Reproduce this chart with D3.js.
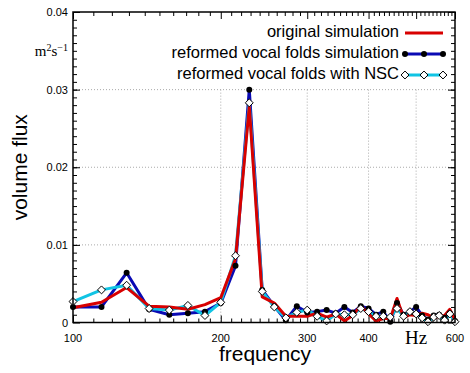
<!DOCTYPE html>
<html>
<head>
<meta charset="utf-8">
<script src="https://cdn.jsdelivr.net/npm/d3@7"></script>
<style>
  body { margin: 0; background: #fff; }
  svg { display: block; }
  text { font-family: "Liberation Sans", Arial, sans-serif; }
</style>
</head>
<body>
<div id="chart"></div>
<script>
// frecuencias (Hz) de cada punto
const freqs = [100, 114.3, 128.6, 142.9, 157.1, 171.4, 185.7, 200, 214.3, 228.6, 242.9, 257.1,
  271.4, 285.7, 300, 314.3, 328.6, 342.9, 357.1, 371.4, 385.7, 400, 414.3, 428.6,
  442.9, 457.1, 471.4, 485.7, 500, 514.3, 528.6, 542.9, 557.1, 571.4, 585.7, 600];

// original simulation
const original = [0.0019, 0.0026, 0.0045, 0.0021, 0.0020, 0.0017, 0.0023, 0.0032, 0.0082, 0.0278, 0.0033, 0.0025,
  0.0008, 0.0008, 0.0008, 0.0012, 0.0007, 0.0011, 0.0002, 0.0009, 0.0022, 0.0011, 0.0002, 0.0005,
  0.0005, 0.0031, 0.0006, 0.0010, 0.0009, 0.0012, 0.0010, 0.0006, 0.0008, 0.0009, 0.0017, 0.0003];

// reformed vocal folds simulation
const reformed = [0.0020, 0.0020, 0.0064, 0.0017, 0.0010, 0.0012, 0.0014, 0.0025, 0.0073, 0.0300, 0.0042, 0.0021,
  0.0003, 0.0021, 0.0013, 0.0014, 0.0016, 0.0012, 0.0020, 0.0013, 0.0021, 0.0018, 0.0010, 0.0014,
  0.0001, 0.0025, 0.0010, 0.0014, 0.0020, 0.0009, 0.0004, 0.0009, 0.0010, 0.0006, 0.0012, 0.0002];

// reformed vocal folds with NSC
const withNSC = [0.0027, 0.0042, 0.0048, 0.0018, 0.0016, 0.0022, 0.0009, 0.0026, 0.0086, 0.0283, 0.0040, 0.0020,
  0.0006, 0.0013, 0.0016, 0.0008, 0.0002, 0.0011, 0.0010, 0.0010, 0.0018, 0.0014, 0.0008, 0.0008,
  0.0007, 0.0018, 0.0008, 0.0014, 0.0011, 0.0006, 0.0001, 0.0007, 0.0009, 0.0003, 0.0011, 0.0001];

const xTickLabels = ['100', '200', '300', '400', 'Hz', '600'];
const xTickValues = [100, 200, 300, 400, 500, 600];
const yTickValues = [0, 0.01, 0.02, 0.03, 0.04];
const legendLabels = ['original simulation', 'reformed vocal folds simulation', 'reformed vocal folds with NSC'];

const COLOR_RED = '#d80000', COLOR_BLUE = '#0a0ab4', COLOR_CYAN = '#10c4e4';

let margin = {top: 12, right: 15, bottom: 50.5, left: 73},
    W = 470, H = 373,
    width = W - margin.left - margin.right,
    height = H - margin.top - margin.bottom;

let svg = d3.select('#chart').append('svg')
    .attr('width', W).attr('height', H)
  .append('g')
    .attr('transform', 'translate(' + margin.left + ',' + margin.top + ')');

let x = d3.scaleLog().domain([100, 600]).range([0, width]);
let y = d3.scaleLinear().domain([0, 0.04]).range([height, 0]);

// rejilla
svg.append('g').selectAll('line').data([0.01, 0.02, 0.03]).enter().append('line')
    .attr('x1', 0).attr('x2', width)
    .attr('y1', d => y(d)).attr('y2', d => y(d))
    .attr('stroke', '#aaa').attr('stroke-dasharray', '1,2');
svg.append('g').selectAll('line').data([200, 300, 400, 500]).enter().append('line')
    .attr('x1', d => x(d)).attr('x2', d => x(d))
    .attr('y1', y(0.03)).attr('y2', height)
    .attr('stroke', '#aaa').attr('stroke-dasharray', '1,2');

// ticks interiores
const minorX = d3.range(110, 600, 10).filter(v => v % 100 !== 0);
const minorY = d3.range(1, 40).map(i => i / 1000);

function tickAxis(axisFn, scale, vals, size) {
  return axisFn(scale).tickValues(vals).tickSize(size).tickFormat('');
}
[[d3.axisTop, 'translate(0,' + height + ')'], [d3.axisBottom, 'translate(0,0)']].forEach(([fn, tr]) => {
  svg.append('g').attr('class', 'tk').attr('transform', tr).call(tickAxis(fn, x, minorX, 4));
  svg.append('g').attr('class', 'tk').attr('transform', tr).call(tickAxis(fn, x, xTickValues, 7));
});
[[d3.axisRight, 'translate(0,0)'], [d3.axisLeft, 'translate(' + width + ',0)']].forEach(([fn, tr]) => {
  svg.append('g').attr('class', 'tk').attr('transform', tr).call(tickAxis(fn, y, minorY, 4));
  svg.append('g').attr('class', 'tk').attr('transform', tr).call(tickAxis(fn, y, yTickValues, 7));
});
svg.selectAll('.tk .domain').remove();
svg.selectAll('.tk line').attr('stroke', '#000');

// etiquetas
svg.append('g').selectAll('text').data(xTickValues).enter().append('text')
    .attr('x', d => x(d))
    .attr('y', (d, i) => xTickLabels[i] == 'Hz' ? height + 21 : height + 19)
    .attr('text-anchor', 'middle')
    .style('font-family', (d, i) => xTickLabels[i] == 'Hz' ? '"Liberation Serif", serif' : null)
    .style('font-size', (d, i) => xTickLabels[i] == 'Hz' ? '19px' : '11px')
    .text((d, i) => xTickLabels[i]);

svg.append('g').selectAll('text').data(yTickValues).enter().append('text')
    .attr('x', -5).attr('y', d => y(d) + 4)
    .attr('text-anchor', 'end').style('font-size', '11px')
    .text(d => d === 0 ? '0' : d3.format('.2f')(d));

let unit = svg.append('text')
    .attr('x', -5).attr('y', y(0.035) + 5)
    .attr('text-anchor', 'end')
    .style('font-family', '"Liberation Serif", serif').style('font-size', '15px');
unit.append('tspan').text('m');
unit.append('tspan').attr('dy', -5).style('font-size', '10px').text('2');
unit.append('tspan').attr('dy', 5).text('s');
unit.append('tspan').attr('dy', -5).style('font-size', '10px').text('\u22121');

svg.append('text')
    .attr('x', width / 2 + 1).attr('y', height + 38.5)
    .attr('text-anchor', 'middle').style('font-size', '21px')
    .text('frequency');
svg.append('text')
    .attr('transform', 'translate(' + (-46) + ',' + (height / 2) + ') rotate(-90)')
    .attr('text-anchor', 'middle').style('font-size', '21px')
    .text('volume flux');

// series
const series = [
  {values: reformed, color: COLOR_BLUE, marker: 'circle'},
  {values: withNSC, color: COLOR_CYAN, marker: 'diamond'},
  {values: original, color: COLOR_RED, marker: null}
];

let line = d3.line().x(d => x(d[0])).y(d => y(d[1]));

series.forEach(s => {
  svg.append('path')
      .datum(freqs.map((f, i) => [f, s.values[i]]))
      .attr('fill', 'none').attr('stroke', s.color)
      .attr('stroke-width', 3).attr('stroke-linejoin', 'round')
      .attr('d', line);
});

function drawMarker(g, type, cx, cy) {
  if (type == 'circle') {
    g.append('circle').attr('cx', cx).attr('cy', cy).attr('r', 3).attr('fill', '#000');
  } else if (type == 'diamond') {
    g.append('path')
        .attr('d', d3.symbol().type(d3.symbolDiamond2).size(40)())
        .attr('transform', 'translate(' + cx + ',' + cy + ')')
        .attr('fill', '#fff').attr('stroke', '#000').attr('stroke-width', 1);
  }
}

series.filter(s => s.marker).forEach(s => {
  let g = svg.append('g');
  freqs.forEach((f, i) => drawMarker(g, s.marker, x(f), y(s.values[i])));
});

// leyenda
const legendSeries = [series[2], series[0], series[1]];
let legend = svg.append('g');
legendLabels.forEach((lab, i) => {
  let ly = 25 + i * 21;
  legend.append('text')
      .attr('x', 326).attr('y', ly)
      .attr('text-anchor', 'end').style('font-size', '16.5px')
      .text(lab);
  legend.append('line')
      .attr('x1', 332).attr('x2', 370)
      .attr('y1', ly - 4).attr('y2', ly - 4)
      .attr('stroke', legendSeries[i].color).attr('stroke-width', 3);
  [332, 351, 370].forEach(mx => drawMarker(legend, legendSeries[i].marker, mx, ly - 4));
});

// marco
svg.append('rect')
    .attr('width', width).attr('height', height)
    .attr('fill', 'none').attr('stroke', '#000').attr('stroke-width', 1.5);
</script>
</body>
</html>
